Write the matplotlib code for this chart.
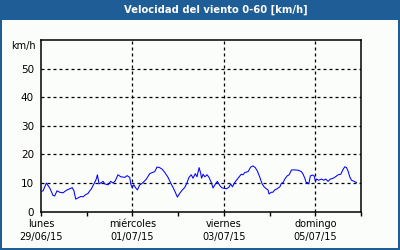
import matplotlib
matplotlib.use('Agg')
import matplotlib.pyplot as plt
from matplotlib.patches import Rectangle
import numpy as np

# horas desde lunes 29/06/15 00:00 y velocidad del viento [km/h]
horas = [0.0, 1.1, 2.8, 4.6, 6.3, 7.2, 8.4, 9.8, 11.6, 13.3, 15.1, 16.4, 17.3, 18.2,
         19.4, 20.9, 22.1, 23.3, 24.7, 25.6, 26.4, 27.3, 28.2, 29.0, 29.6, 30.5,
         31.7, 32.6, 33.5, 35.2, 36.6, 37.8, 39.0, 40.4, 41.9, 44.0, 45.2, 46.6,
         47.1, 47.8, 48.7, 49.5, 50.6, 51.8, 53.6, 55.3, 57.1, 58.5, 59.7, 60.9,
         62.3, 63.7, 65.0, 66.7, 68.1, 69.3, 70.5, 71.6, 72.8, 74.2, 75.5, 76.7,
         77.7, 78.9, 79.8, 81.0, 81.9, 83.0, 83.8, 84.3, 85.1, 86.0, 87.2, 88.2,
         89.4, 90.3, 91.6, 92.6, 93.9, 95.1, 96.1, 97.3, 98.6, 99.6, 100.5, 101.7,
         103.1, 104.4, 105.2, 106.1, 107.0, 108.7, 110.1, 111.3, 112.5, 113.6,
         114.9, 116.1, 117.1, 118.3, 119.2, 119.7, 120.9, 121.8, 122.7, 123.9,
         125.4, 126.2, 127.1, 128.0, 129.2, 130.3, 131.5, 133.3, 135.0, 136.7,
         137.6, 138.5, 139.3, 139.9, 140.6, 141.4, 142.5, 143.4, 144.1, 144.6,
         145.8, 147.2, 148.5, 149.5, 150.7, 151.9, 153.4, 154.6, 156.0, 157.4,
         158.6, 159.5, 160.4, 161.2, 162.1, 163.0, 164.4, 165.6]
viento = [7.1, 7.3, 10.0, 8.3, 5.7, 5.5, 7.3, 6.8, 6.6, 7.5, 8.0, 8.4, 7.3, 4.4,
          4.8, 5.3, 5.2, 5.9, 6.4, 7.3, 7.9, 9.1, 10.2, 11.4, 12.9, 9.7,
          10.2, 10.6, 9.7, 9.4, 10.6, 10.0, 10.8, 12.9, 12.2, 12.0, 12.6, 12.0,
          9.7, 8.5, 9.4, 8.5, 7.6, 9.3, 10.2, 11.4, 13.3, 13.7, 14.0, 15.6,
          15.4, 14.8, 13.7, 12.0, 10.0, 8.5, 6.8, 5.1, 6.4, 7.6, 8.5, 10.2,
          12.0, 12.9, 11.7, 13.3, 12.2, 15.4, 13.5, 11.7, 13.1, 12.2, 12.9, 12.0,
          10.2, 8.3, 9.7, 10.6, 9.1, 8.3, 8.2, 8.0, 8.5, 9.7, 8.7, 10.2,
          11.4, 12.5, 13.1, 12.9, 13.7, 14.0, 15.6, 16.0, 15.4, 14.2,
          12.0, 9.7, 8.7, 8.0, 7.6, 6.2, 6.8, 6.8, 7.6, 8.0,
          8.7, 9.9, 10.2, 11.4, 12.5, 12.9, 14.6, 14.6, 14.5, 14.0,
          13.1, 11.7, 10.0, 10.2, 9.7, 12.5, 12.8, 12.5, 10.6, 11.4,
          11.0, 11.4, 11.0, 11.4, 10.6, 11.4, 11.7, 12.2, 12.9, 13.1,
          14.8, 15.7, 15.4, 14.2, 12.2, 11.0, 10.6, 10.2]

etiquetas = ['lunes\n29/06/15', 'miércoles\n01/07/15', 'viernes\n03/07/15', 'domingo\n05/07/15']
titulo = 'Velocidad del viento 0-60 [km/h]'

azul = '#1f5d97'
fig = plt.figure(figsize=(4, 2.5), dpi=100, facecolor=azul)
fig.patches.append(Rectangle((2/400, 2/250), 396/400, 228/250, transform=fig.transFigure,
                             facecolor='#fbfdfb', edgecolor='none', zorder=-10))
fig.text(216/400, 1 - 10/250, titulo, color='white', fontsize=7.2, fontweight='bold',
         ha='center', va='center')

ax = fig.add_axes([41/400, 1 - 211.7/250, 320/400, 171.7/250])
ax.set_zorder(2)
ax.set_facecolor('#fbfdfb')
ax.plot(np.array(horas) / 24.0, viento, color='#0000ff', lw=0.75, zorder=3)

ax.set_xlim(0, 7)
ax.set_ylim(0, 60)
ax.set_yticks(range(0, 60, 10))
ax.set_xticks([0, 2, 4, 6])
ax.set_xticklabels(etiquetas, fontsize=7, linespacing=1.45)
ax.set_xticks([1, 3, 5, 7], minor=True)
ax.tick_params(axis='y', length=0, pad=5, labelsize=7.5)
ax.tick_params(axis='x', which='both', length=3, width=1, direction='out', pad=2)
for s in ax.spines.values():
    s.set_linewidth(1.1)

for y in range(10, 60, 10):
    ax.axhline(y, color='black', lw=0.9, ls=(0, (2.4, 2.4)))
for x in [2, 4, 6]:
    ax.axvline(x, color='black', lw=0.9, ls=(0, (2.4, 2.4)))

fig.text(36/400, 1 - 46/250, 'km/h', fontsize=7, ha='right', va='center')

fig.savefig('out.png', dpi=100, facecolor=azul)
